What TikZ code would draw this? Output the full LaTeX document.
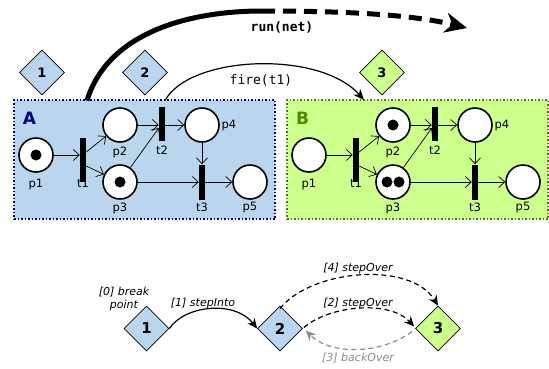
\documentclass[tikz,border=0pt]{standalone}
\usepackage{fontspec}
\setmainfont{DejaVu Sans}
\setmonofont{DejaVu Sans Mono}
\usetikzlibrary{shapes.geometric,arrows.meta}
\definecolor{netblue}{RGB}{185,214,238}
\definecolor{netgreen}{RGB}{204,255,140}
\definecolor{navyb}{RGB}{0,0,128}
\definecolor{greenb}{RGB}{75,140,0}
\definecolor{greenbd}{RGB}{80,120,20}
\definecolor{backgray}{RGB}{140,140,140}
\begin{document}
\begin{tikzpicture}[x=1pt,y=-1pt,
  place/.style={circle,draw,line width=1.6pt,fill=white,minimum size=34pt,inner sep=0pt},
  trans/.style={rectangle,fill=black,minimum width=6pt,inner sep=0pt},
  tok/.style={circle,fill=black,minimum size=11pt,inner sep=0pt},
  arc/.style={-{Straight Barb[length=6pt,width=11pt,line width=0.7pt]},line width=0.7pt},
  lab/.style={font=\fontsize{11.5}{13}\selectfont,inner sep=0pt},
  topstate/.style={diamond,draw,line width=0.8pt,minimum size=45pt,inner sep=0pt,font=\bfseries\fontsize{13}{15}\selectfont},
  botstate/.style={diamond,draw,line width=0.8pt,minimum size=45pt,inner sep=0pt,font=\bfseries\fontsize{15}{17}\selectfont},
  steplab/.style={font=\itshape\fontsize{11}{13}\selectfont,inner sep=0pt},
  boxlet/.style={font=\bfseries\fontsize{17}{19}\selectfont,inner sep=0pt}
]
\useasboundingbox (0,0) rectangle (549,368);

% ---------- Net A ----------
\node[draw=navyb,line width=1.5pt,dotted,fill=netblue,minimum width=261pt,minimum height=119pt,inner sep=0pt] (boxA) at (144.5,159.5) {};
\node[boxlet,text=navyb] (letA) at (29.5,118) {A};
\node[place] (Ap1) at (36,155) {};
\node[place] (Ap2) at (120,125) {};
\node[place] (Ap3) at (120,182) {};
\node[place] (Ap4) at (202,125) {};
\node[place] (Ap5) at (250,182) {};
\node[trans,minimum height=44pt] (At1) at (83,160) {};
\node[trans,minimum height=34pt] (At2) at (162,124) {};
\node[trans,minimum height=35pt] (At3) at (202,182) {};
\node[tok] (Ak1) at (Ap1) {};
\node[tok] (Ak3) at (Ap3) {};
\node[lab] (Alp1) at (36,184) {p1};
\node[lab] (Alp2) at (120,152) {p2};
\node[lab] (Alp3) at (120,208) {p3};
\node[lab] (Alp4) at (229,125) {p4};
\node[lab] (Alp5) at (250,207) {p5};
\node[lab] (Alt1) at (83,183) {t1};
\node[lab] (Alt2) at (162,150) {t2};
\node[lab] (Alt3) at (202,207) {t3};
\draw[arc] (Ap1) -- (Ap1 -| At1.west);
\draw[arc] ([yshift=8pt]At1.east) -- (Ap2);
\draw[arc] ([yshift=-6pt]At1.east) -- (Ap3);
\draw[arc] (Ap2) -- (Ap2 -| At2.west);
\draw[arc] (Ap3) -- ([yshift=-4pt]At2.west);
\draw[arc] (At2.east |- Ap4) -- (Ap4);
\draw[arc] (Ap4) -- (Ap4 |- At3.north);
\draw[arc] (Ap3) -- (Ap3 -| At3.west);
\draw[arc] (At3.east |- Ap5) -- (Ap5);

% ---------- Net B ----------
\node[draw=greenbd,line width=1.5pt,dotted,fill=netgreen,minimum width=261pt,minimum height=119pt,inner sep=0pt] (boxB) at (417.5,159.5) {};
\node[boxlet,text=greenb] (letB) at (302.5,118) {B};
\node[place] (Bp1) at (309,155) {};
\node[place] (Bp2) at (393,125) {};
\node[place] (Bp3) at (393,182) {};
\node[place] (Bp4) at (475,125) {};
\node[place] (Bp5) at (523,182) {};
\node[trans,minimum height=44pt] (Bt1) at (356,160) {};
\node[trans,minimum height=34pt] (Bt2) at (435,124) {};
\node[trans,minimum height=35pt] (Bt3) at (475,182) {};
\node[tok] (Bk2) at (Bp2) {};
\node[tok] (Bk3a) at ([xshift=-6pt]Bp3.center) {};
\node[tok] (Bk3b) at ([xshift=6pt]Bp3.center) {};
\node[lab] (Blp1) at (309,184) {p1};
\node[lab] (Blp2) at (393,152) {p2};
\node[lab] (Blp3) at (393,208) {p3};
\node[lab] (Blp4) at (502,125) {p4};
\node[lab] (Blp5) at (523,207) {p5};
\node[lab] (Blt1) at (356,183) {t1};
\node[lab] (Blt2) at (435,150) {t2};
\node[lab] (Blt3) at (475,207) {t3};
\draw[arc] (Bp1) -- (Bp1 -| Bt1.west);
\draw[arc] ([yshift=8pt]Bt1.east) -- (Bp2);
\draw[arc] ([yshift=-6pt]Bt1.east) -- (Bp3);
\draw[arc] (Bp2) -- (Bp2 -| Bt2.west);
\draw[arc] (Bp3) -- ([yshift=-4pt]Bt2.west);
\draw[arc] (Bt2.east |- Bp4) -- (Bp4);
\draw[arc] (Bp4) -- (Bp4 |- Bt3.north);
\draw[arc] (Bp3) -- (Bp3 -| Bt3.west);
\draw[arc] (Bt3.east |- Bp5) -- (Bp5);

% ---------- top states ----------
\node[topstate,fill=netblue] (d1) at (42,72.5) {1};
\node[topstate,fill=netblue] (d2) at (145,72.5) {2};
\node[topstate,fill=netgreen] (d3) at (382,72.5) {3};

% run(net)
\coordinate (runS) at (87,100.5);
\coordinate (runM) at (262,11);
\coordinate (runE) at (467,28);
\draw[line width=5pt] (runS) .. controls (108,32) and (190,11) .. (runM);
\draw[line width=5pt,dash pattern=on 13pt off 8pt,-{Stealth[length=22pt,width=20pt,inset=7pt]}] (runM) .. controls (340,11) and (410,14) .. (runE);
\node[font=\ttfamily\bfseries\fontsize{13}{15}\selectfont,inner sep=0pt] (runlab) at (282,27) {run(net)};

% fire(t1)
\coordinate (fireS) at (165,100.5);
\coordinate (fireE) at (364,100);
\draw[line width=1.2pt,-{Stealth[length=11pt,width=9pt]}] (fireS) .. controls (190,55) and (320,50) .. (fireE);
\node[font=\ttfamily\fontsize{13}{15}\selectfont,inner sep=0pt] (firelab) at (261,80) {fire(t1)};

% ---------- bottom ----------
\node[botstate,fill=netblue] (b1) at (146.5,328.5) {1};
\node[botstate,fill=netblue] (b2) at (280,328.5) {2};
\node[botstate,fill=netgreen] (b3) at (438,328.5) {3};
\node[steplab,align=center] (l0) at (124,299) {[0] break\\point};
\node[steplab] (l1) at (203,303) {[1] stepInto};
\node[steplab] (l2) at (358,303) {[2] stepOver};
\node[steplab] (l4) at (358,268) {[4] stepOver};
\node[steplab,text=backgray] (l3) at (358,358) {[3] backOver};
\draw[line width=1.2pt,-{Stealth[length=10pt,width=9pt]}] (b1.east) .. controls (185,305) and (235,300) .. (b2.west);
\draw[line width=1.2pt,dash pattern=on 5pt off 3.5pt,-{Stealth[length=10pt,width=9pt]}] ([xshift=1pt,yshift=1pt]b2.east) .. controls (330,305) and (390,300) .. ([xshift=-1pt,yshift=2pt]b3.west);
\draw[line width=1.2pt,dash pattern=on 5pt off 3.5pt,-{Stealth[length=10pt,width=9pt]}] ([yshift=-3pt]b2.north) .. controls (310,270) and (410,260) .. (b3.north);
\draw[line width=1.2pt,backgray,dash pattern=on 5pt off 3.5pt,-{Stealth[length=10pt,width=9pt]}] ([xshift=-3pt,yshift=-3pt]b3.west) .. controls (380,355) and (330,355) .. ([xshift=3pt,yshift=-2pt]b2.east);
\end{tikzpicture}
\end{document}
